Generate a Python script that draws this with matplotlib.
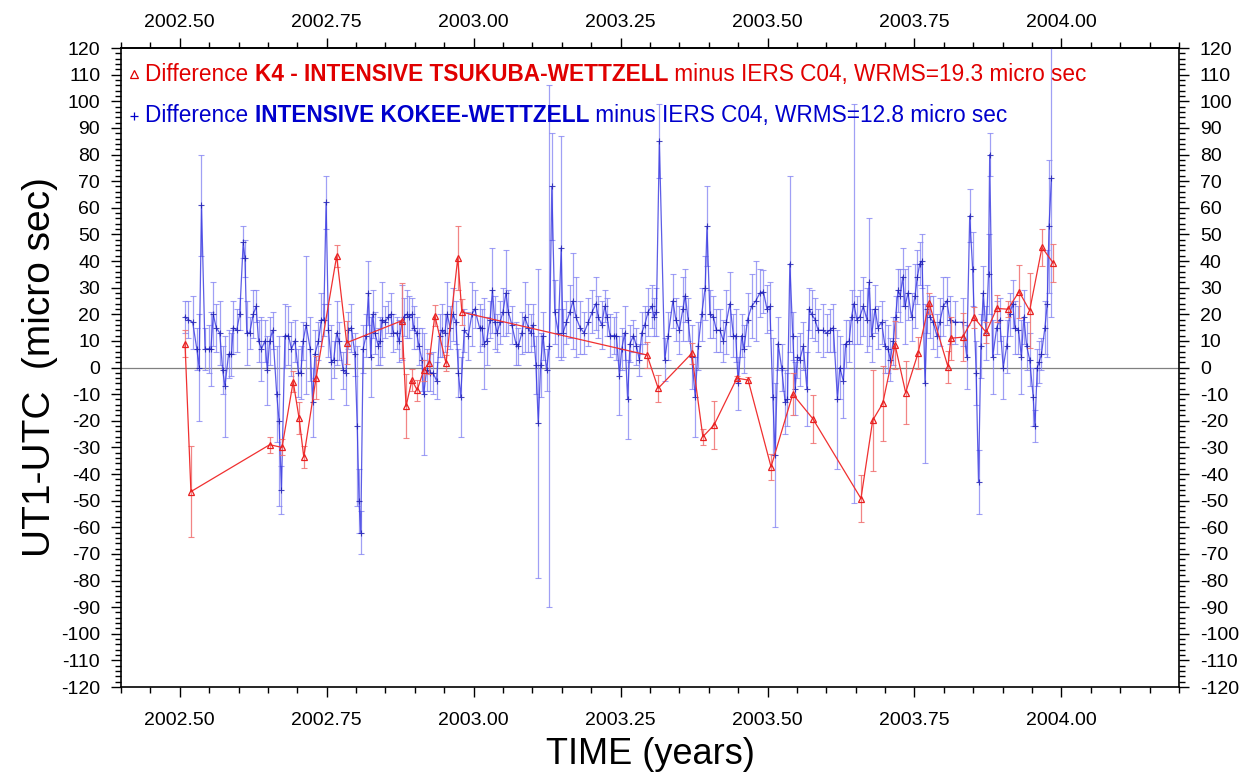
import matplotlib
matplotlib.use("Agg")
import matplotlib.pyplot as plt
from matplotlib.ticker import MultipleLocator, FormatStrFormatter

plt.rcParams['font.family'] = ['Liberation Sans', 'DejaVu Sans']

# ---- K4 intensive Tsukuba-Wettzell minus IERS C04 (micro sec) ----
k4_epoch = [2002.509, 2002.519, 2002.653, 2002.674, 2002.693, 2002.703, 2002.711,
            2002.732, 2002.767, 2002.784, 2002.878, 2002.885, 2002.895, 2002.904,
            2002.915, 2002.924, 2002.934, 2002.953, 2002.973, 2002.980, 2003.295,
            2003.314, 2003.371, 2003.390, 2003.409, 2003.448, 2003.467, 2003.506,
            2003.543, 2003.577, 2003.659, 2003.679, 2003.696, 2003.717, 2003.735,
            2003.756, 2003.775, 2003.807, 2003.812, 2003.832, 2003.851, 2003.872,
            2003.890, 2003.909, 2003.928, 2003.946, 2003.967, 2003.986]
k4_diff = [9.0, -46.6, -29.0, -30.0, -5.3, -19.0, -33.6, -3.8, 41.9, 9.3, 17.6,
           -14.6, -4.7, -8.5, -1.0, 1.6, 19.5, 1.6, 41.1, 20.8, 4.7, -7.8, 5.3,
           -26.0, -21.6, -4.0, -4.7, -37.3, -10.0, -19.2, -49.2, -19.8, -13.5, 8.5,
           -9.4, 5.3, 24.1, 0.3, 11.0, 11.4, 18.9, 13.2, 22.2, 21.9, 28.5, 21.4,
           45.1, 39.3]
k4_sigma = [5, 17, 3, 3, 4, 6, 4, 8, 4, 8, 14, 12, 4, 4, 4, 4, 4, 3, 12, 5, 5, 5,
            4, 3, 9, 1, 1, 5, 8, 9, 9, 19, 14, 9, 12, 6, 4, 6, 8, 9, 4, 4, 5, 3,
            10, 14, 7, 7]

# ---- Intensive Kokee-Wettzell minus IERS C04 (micro sec) ----
kk_epoch = [2002.509, 2002.514, 2002.522, 2002.529, 2002.533, 2002.537, 2002.543,
            2002.549, 2002.553, 2002.557, 2002.562, 2002.568, 2002.573, 2002.577,
            2002.583, 2002.588, 2002.591, 2002.597, 2002.602, 2002.608, 2002.611,
            2002.614, 2002.619, 2002.625, 2002.630, 2002.634, 2002.639, 2002.645,
            2002.649, 2002.653, 2002.658, 2002.665, 2002.669, 2002.673, 2002.679,
            2002.685, 2002.690, 2002.696, 2002.702, 2002.706, 2002.710, 2002.715,
            2002.722, 2002.726, 2002.730, 2002.736, 2002.741, 2002.745, 2002.749,
            2002.753, 2002.758, 2002.762, 2002.767, 2002.771, 2002.778, 2002.783,
            2002.787, 2002.792, 2002.798, 2002.802, 2002.805, 2002.808, 2002.812,
            2002.817, 2002.821, 2002.825, 2002.828, 2002.832, 2002.838, 2002.841,
            2002.844, 2002.849, 2002.855, 2002.859, 2002.863, 2002.869, 2002.873,
            2002.878, 2002.881, 2002.886, 2002.890, 2002.895, 2002.898, 2002.903,
            2002.907, 2002.912, 2002.915, 2002.920, 2002.926, 2002.931, 2002.937,
            2002.942, 2002.946, 2002.951, 2002.955, 2002.960, 2002.965, 2002.970,
            2002.974, 2002.978, 2002.984, 2002.991, 2002.997, 2003.002, 2003.010,
            2003.014, 2003.018, 2003.022, 2003.028, 2003.032, 2003.036, 2003.040,
            2003.045, 2003.050, 2003.055, 2003.059, 2003.065, 2003.072, 2003.076,
            2003.082, 2003.087, 2003.093, 2003.097, 2003.101, 2003.106, 2003.110,
            2003.114, 2003.118, 2003.124, 2003.129, 2003.133, 2003.138, 2003.144,
            2003.149, 2003.152, 2003.158, 2003.164, 2003.169, 2003.174, 2003.181,
            2003.188, 2003.195, 2003.202, 2003.208, 2003.212, 2003.218, 2003.223,
            2003.227, 2003.232, 2003.238, 2003.243, 2003.248, 2003.252, 2003.257,
            2003.262, 2003.266, 2003.272, 2003.277, 2003.282, 2003.286, 2003.291,
            2003.297, 2003.303, 2003.307, 2003.311, 2003.316, 2003.325, 2003.331,
            2003.339, 2003.344, 2003.350, 2003.356, 2003.360, 2003.365, 2003.371,
            2003.377, 2003.382, 2003.388, 2003.394, 2003.397, 2003.402, 2003.408,
            2003.413, 2003.419, 2003.425, 2003.430, 2003.436, 2003.442, 2003.446,
            2003.450, 2003.456, 2003.460, 2003.466, 2003.473, 2003.480, 2003.487,
            2003.493, 2003.499, 2003.504, 2003.509, 2003.513, 2003.518, 2003.524,
            2003.530, 2003.534, 2003.538, 2003.543, 2003.547, 2003.551, 2003.555,
            2003.561, 2003.567, 2003.571, 2003.575, 2003.581, 2003.586, 2003.594,
            2003.601, 2003.606, 2003.612, 2003.619, 2003.623, 2003.629, 2003.633,
            2003.639, 2003.643, 2003.647, 2003.652, 2003.657, 2003.663, 2003.669,
            2003.673, 2003.677, 2003.683, 2003.688, 2003.694, 2003.700, 2003.705,
            2003.709, 2003.714, 2003.718, 2003.722, 2003.726, 2003.730, 2003.734,
            2003.739, 2003.745, 2003.751, 2003.755, 2003.759, 2003.763, 2003.768,
            2003.772, 2003.776, 2003.782, 2003.788, 2003.793, 2003.799, 2003.805,
            2003.810, 2003.819, 2003.832, 2003.839, 2003.844, 2003.849, 2003.855,
            2003.859, 2003.863, 2003.867, 2003.872, 2003.876, 2003.878, 2003.883,
            2003.890, 2003.895, 2003.901, 2003.907, 2003.912, 2003.917, 2003.921,
            2003.927, 2003.932, 2003.936, 2003.941, 2003.946, 2003.952, 2003.955,
            2003.959, 2003.962, 2003.966, 2003.972, 2003.976, 2003.979, 2003.983]
kk_diff = [19, 18, 17, 7, 0, 61, 7, 7, 7, 20, 15, 13, -1, -7, 5, 5, 15, 14, 20, 47,
           41, 13, 13, 20, 23, 10, 7, 10, -1, 10, 14, -10, -20, -46, 12, 12, 7, 10,
           -2, -2, 10, 16, 7, -13, 5, 10, 18, 18, 62, 14, 2, 3, 13, 10,
           -1, -2, 14, 15, 5, -22, -50, -62, 7, 12, 28, 4, 20, 13, 8, 10, 18, 17,
           19, 20, 13, 13, 10, 17, 19, 20, 19, 20, 15, 13, 8, 3, -10, -1, -2, -2,
           -5, 12, 14, 13, 20, 15, 20, 17, -2, -11, 14, 12, 20, 22, 15, 15, 9, 10,
           18, 29, 17, 13,
           17, 21, 28, 21, 16, 9, 8, 13, 19, 15, 13, 16, 1, -21, 1, 12, -1, 8, 68,
           21, 13, 45, 13, 17, 21, 25, 19, 15, 13, 17, 21, 24, 19, 16, 23, 19, 12,
           12, 12, -3, 7, 13, -12, 9, 12, 8, 3, 13, 16, 21, 23, 19, 21, 85,
           3, 12, 25, 18, 14, 22, 27, 18, 4, -11, 8, 20, 30, 53, 20, 19, 14,
           14, 10, 17, 24, 12, 12, -6, 12, 7, 18, 23, 25, 28, 28.5, 22, 23, -11,
           -33, 9, 0, -13, -12, 39, 12, -8, 4, 3, 8, -8, 22, 20, 18, 14, 14, 13, 14,
           15, -12, 0, -5, 9, 10, 19, 24, 18, 19, 23, 18, 32, 12, 22, 15, 17, 8, 7,
           3, 10, 19, 29, 27, 34, 23, 28, 19, 27, 34, 39, 40, -6, 22, 19, 17, 12,
           17, 23, 25,
           18, 17, 17, 4, 57, 37, -2, -43, 8, 28, 13, 35, 80, 4, 15, 18, 0, 8, 20,
           24, 15, 14, 4, 19, 8, 3, -11, -22, 0, 2, 5, 15, 24, 53, 71]
kk_sigma = [6, 7, 10, 8, 20, 19, 8, 9, 14, 12, 9, 12, 9, 19, 9, 8, 10, 8, 6, 6,
            7, 12, 6, 9, 6, 8, 12, 8, 13, 9, 7, 18, 32, 9, 12, 11, 10, 8,
            9, 10, 7, 26, 12, 13, 9, 7, 10, 6, 10, 10, 14, 7, 12, 7,
            7, 12, 7, 9, 8, 30, 12, 8, 9, 8, 12, 15, 9, 8, 7, 9, 14, 6,
            6, 8, 7, 6, 8, 14, 7, 9, 8, 6, 8, 6, 7, 12, 23, 8, 7, 8,
            7, 8, 10, 7, 12, 8, 10, 8, 9, 15, 8, 9, 12, 7, 9, 7, 17, 9,
            7, 16, 10, 7,
            8, 9, 16, 8, 7, 8, 7, 8, 13, 9, 7, 8, 11, 58, 12, 9, 8, 98, 20,
            12, 9, 42, 9, 8, 10, 18, 15, 10, 8, 9, 8, 10, 8, 9, 6, 7, 8,
            7, 9, 15, 8, 10, 15, 7, 6, 7, 6, 8, 7, 9, 8, 7, 9, 14,
            8, 9, 10, 8, 9, 12, 10, 8, 12, 15, 9, 10, 12, 15, 9, 8, 8,
            8, 8, 12, 12, 8, 10, 10, 8, 9, 10, 12, 15, 9, 8, 9, 9, 22,
            27, 10, 9, 12, 10, 33, 9, 10, 8, 10, 9, 14, 8, 9, 8, 8, 10, 7, 8,
            9, 26, 12, 14, 9, 8, 10, 75, 9, 10, 11, 12, 24, 10, 9, 8, 8, 10, 9,
            8, 9, 8, 8, 10, 11, 14, 10, 9, 12, 10, 8, 10, 30, 9, 8, 10, 8,
            9, 11, 9,
            9, 8, 9, 12, 10, 14, 12, 12, 12, 10, 10, 15, 8, 14, 10, 8, 12, 10, 8,
            9, 10, 9, 14, 10, 9, 10, 11, 6, 7, 8, 6, 10, 20, 25, 52]

x_major = 0.25
x_minor = 0.05
y_major = 10
y_minor = 2

RED_TXT = '#e00000'
BLUE_TXT = '#0000cc'

fig = plt.figure(figsize=(12.51, 7.77), dpi=100)
ax = fig.add_axes([0.0967, 0.1158, 0.8457, 0.8224])

# Kokee-Wettzell series
ax.errorbar(kk_epoch, kk_diff, yerr=kk_sigma, fmt='none', ecolor='#8080f2',
            elinewidth=0.9, capsize=2.5, capthick=0.8, alpha=0.75, zorder=2)
ax.plot(kk_epoch, kk_diff, color='#3535e0', lw=0.9, alpha=0.8, zorder=3,
        marker='+', ms=4, mew=0.8, mec='#1a1ab0')

# K4 Tsukuba-Wettzell series
ax.errorbar(k4_epoch, k4_diff, yerr=k4_sigma, fmt='none', ecolor='#f07070',
            elinewidth=0.9, capsize=2.5, capthick=0.8, alpha=0.85, zorder=4)
ax.plot(k4_epoch, k4_diff, color='#f03030', lw=0.9, zorder=5,
        marker='^', ms=4.5, mfc='none', mec='#e82020', mew=0.9)

ax.axhline(0, color='#808080', lw=0.9, zorder=1)

ax.set_xlim(2002.40, 2004.20)
ax.set_ylim(-120, 120)
ax.xaxis.set_major_locator(MultipleLocator(x_major))
ax.xaxis.set_minor_locator(MultipleLocator(x_minor))
ax.xaxis.set_major_formatter(FormatStrFormatter('%.2f'))
ax.yaxis.set_major_locator(MultipleLocator(y_major))
ax.yaxis.set_minor_locator(MultipleLocator(y_minor))
ax.yaxis.set_major_formatter(FormatStrFormatter('%d'))

ax.tick_params(which='both', direction='out', top=False, right=True,
               labeltop=False, labelright=True, labelsize=14, width=1.0)
ax.tick_params(which='major', length=7, pad=8)
ax.tick_params(axis='x', which='major', pad=11)
ax.tick_params(which='minor', length=4)
for sp in ax.spines.values():
    sp.set_linewidth(1.2)

# Top time axis with its own label spacing
top = ax.secondary_xaxis('top')
top.xaxis.set_major_locator(MultipleLocator(x_major))
top.xaxis.set_minor_locator(MultipleLocator(x_minor))
top.xaxis.set_major_formatter(FormatStrFormatter('%.2f'))
top.tick_params(which='both', direction='out', labelsize=14, width=1.0)
top.tick_params(which='major', length=7, pad=5)
top.tick_params(which='minor', length=4)
top.spines['top'].set_linewidth(1.2)

ax.set_xlabel('TIME (years)', fontsize=26, labelpad=6)
ax.set_ylabel('UT1-UTC  (micro sec)', fontsize=28)
ax.yaxis.set_label_coords(-0.0595, 0.5)

# Legend entries, drawn as chained text pieces with mixed weights
def legend_line(y, marker, color, pieces):
    ax.plot([0.012], [y], transform=ax.transAxes, marker=marker, ms=6,
            mfc='none', mec=color, mew=0.9, ls='none', clip_on=False)
    prev = ax.text(0.023, y, pieces[0][0], transform=ax.transAxes, color=color,
                   fontsize=16.3, fontweight=pieces[0][1], va='center', ha='left')
    for text, weight in pieces[1:]:
        prev = ax.annotate(text, xy=(1, 0), xycoords=prev, color=color,
                           fontsize=16.3, fontweight=weight, va='bottom', ha='left')

legend_line(0.959, '^', RED_TXT,
            [('Difference ', 'normal'),
             ('K4 - INTENSIVE TSUKUBA-WETTZELL', 'bold'),
             (' minus IERS C04, WRMS=19.3 micro sec', 'normal')])
legend_line(0.894, '+', BLUE_TXT,
            [('Difference ', 'normal'),
             ('INTENSIVE KOKEE-WETTZELL', 'bold'),
             (' minus IERS C04, WRMS=12.8 micro sec', 'normal')])

fig.savefig('out.png', dpi=100)
